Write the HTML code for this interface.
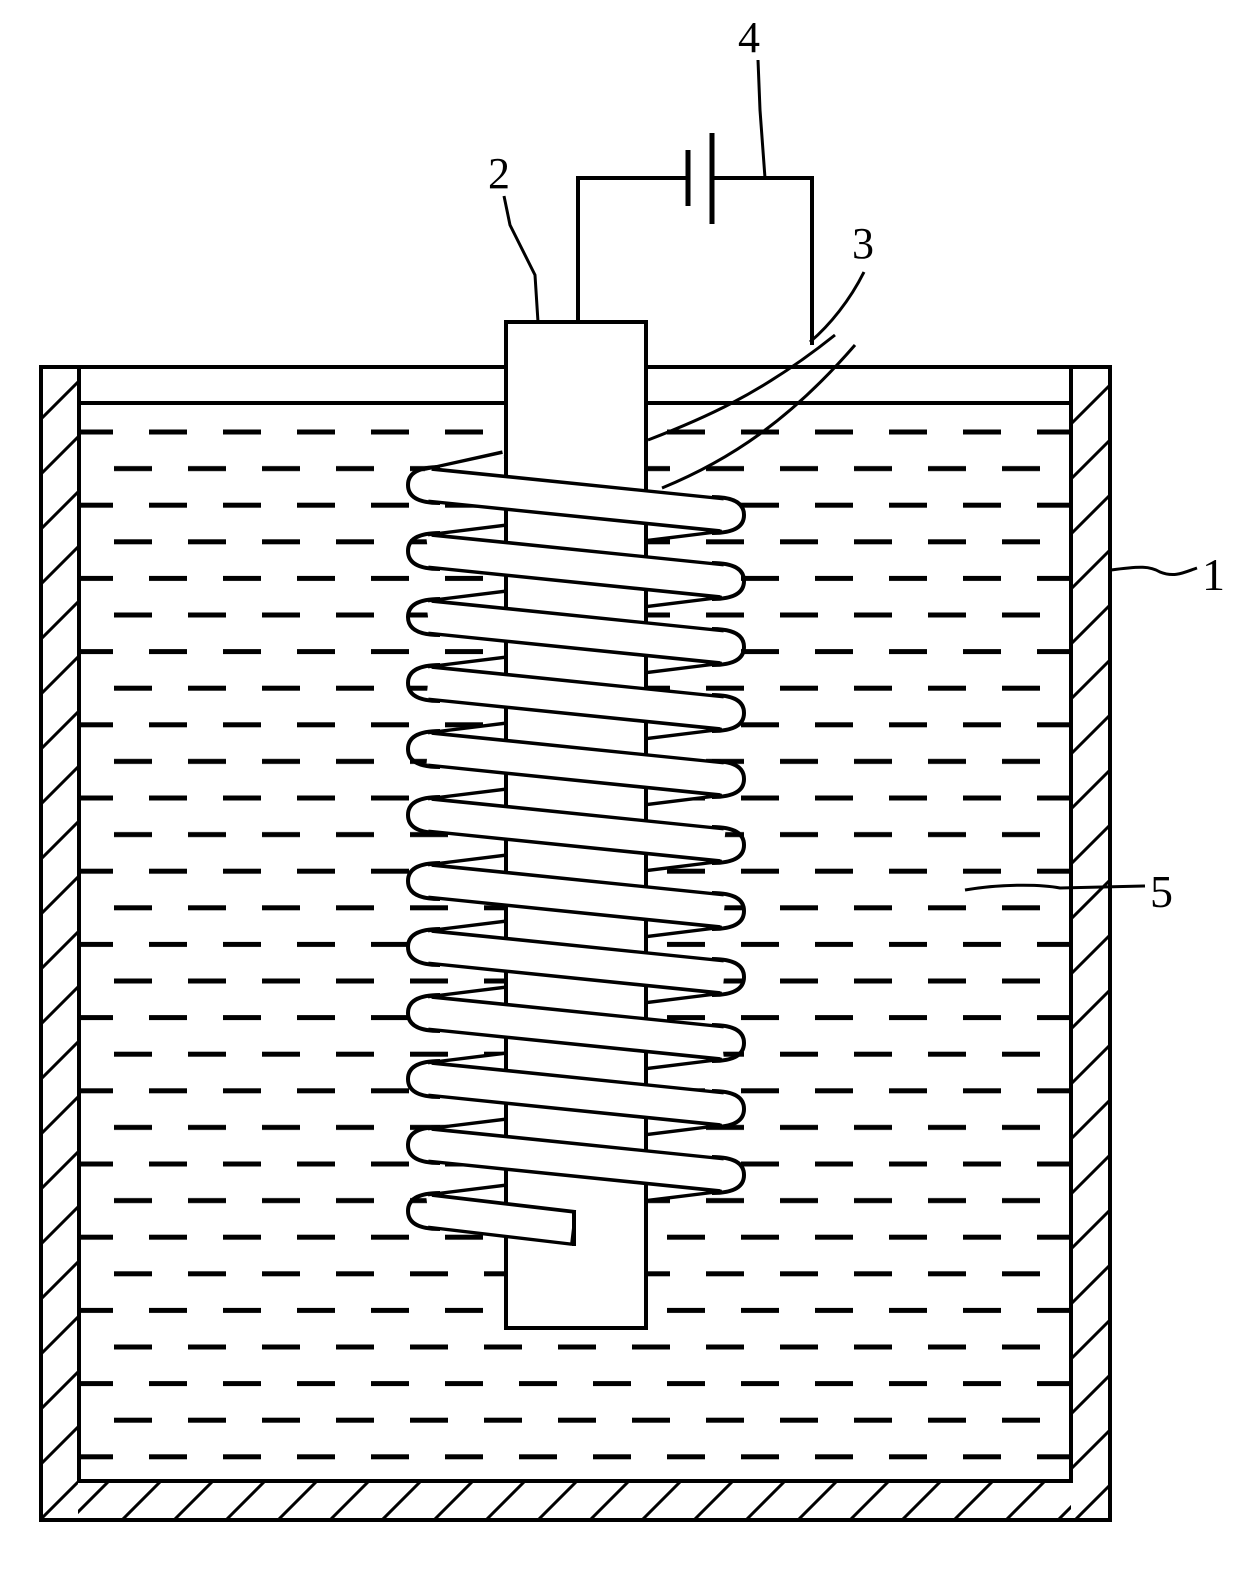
<!DOCTYPE html>
<html><head><meta charset="utf-8"><style>
html,body{margin:0;padding:0;background:#fff;}
svg{display:block;}
text{font-family:"Liberation Serif",serif;fill:#000;}
</style></head><body>
<svg width="1254" height="1570" viewBox="0 0 1254 1570" xmlns="http://www.w3.org/2000/svg">
<defs>
<clipPath id="lw"><rect x="42" y="368" width="36" height="1150"/></clipPath>
<clipPath id="rw"><rect x="1071" y="368" width="38" height="1150"/></clipPath>
<clipPath id="bw"><rect x="78" y="1481" width="993" height="38"/></clipPath>
<pattern id="dp" patternUnits="userSpaceOnUse" x="75" y="429.5" width="74" height="73.2">
<rect x="0" y="0" width="38" height="5" fill="#000"/>
<rect x="39" y="36.6" width="35" height="5" fill="#000"/>
<rect x="0" y="36.6" width="3" height="5" fill="#000"/>
</pattern>
</defs>
<rect x="81" y="425" width="988" height="1045" fill="url(#dp)"/>
<g stroke="#000" fill="none">
<g clip-path="url(#lw)" stroke-width="3">
<path d="M40 420 L80 380 M40 475 L80 435 M40 530 L80 490 M40 585 L80 545 M40 640 L80 600 M40 695 L80 655 M40 750 L80 710 M40 805 L80 765 M40 860 L80 820 M40 915 L80 875 M40 970 L80 930 M40 1025 L80 985 M40 1080 L80 1040 M40 1135 L80 1095 M40 1190 L80 1150 M40 1245 L80 1205 M40 1300 L80 1260 M40 1355 L80 1315 M40 1410 L80 1370 M40 1465 L80 1425 M40 1520 L80 1480"/>
</g>
<g clip-path="url(#rw)" stroke-width="3">
<path d="M1070 425 L1110 385 M1070 480 L1110 440 M1070 535 L1110 495 M1070 590 L1110 550 M1070 645 L1110 605 M1070 700 L1110 660 M1070 755 L1110 715 M1070 810 L1110 770 M1070 865 L1110 825 M1070 920 L1110 880 M1070 975 L1110 935 M1070 1030 L1110 990 M1070 1085 L1110 1045 M1070 1140 L1110 1100 M1070 1195 L1110 1155 M1070 1250 L1110 1210 M1070 1305 L1110 1265 M1070 1360 L1110 1320 M1070 1415 L1110 1375 M1070 1470 L1110 1430 M1070 1525 L1110 1485"/>
</g>
<g clip-path="url(#bw)" stroke-width="3">
<path d="M70 1520 L108 1482 M122 1520 L160 1482 M174 1520 L212 1482 M226 1520 L264 1482 M278 1520 L316 1482 M330 1520 L368 1482 M382 1520 L420 1482 M434 1520 L472 1482 M486 1520 L524 1482 M538 1520 L576 1482 M590 1520 L628 1482 M642 1520 L680 1482 M694 1520 L732 1482 M746 1520 L784 1482 M798 1520 L836 1482 M850 1520 L888 1482 M902 1520 L940 1482 M954 1520 L992 1482 M1006 1520 L1044 1482 M1058 1520 L1096 1482"/>
</g>
<rect x="41" y="367" width="1069" height="1153" stroke-width="4"/>
<path d="M79 367 V1481 H1071 V367" stroke-width="4"/>
<line x1="79" y1="403" x2="1071" y2="403" stroke-width="4"/>

<!-- coil back strands -->
<path d="M506 468 L430 485 M720 515 L430 551 M720 581 L430 617 M720 647 L430 683 M720 713 L430 749 M720 779 L430 815 M720 845 L430 881 M720 911 L430 947 M720 977 L430 1013 M720 1043 L430 1079 M720 1109 L430 1145 M720 1175 L430 1211" stroke-width="36"/>
<path d="M506 468 L428 485 M722 515 L428 551 M722 581 L428 617 M722 647 L428 683 M722 713 L428 749 M722 779 L428 815 M722 845 L428 881 M722 911 L428 947 M722 977 L428 1013 M722 1043 L428 1079 M722 1109 L428 1145 M722 1175 L428 1211" stroke="#fff" stroke-width="29"/>

<!-- rod -->
<rect x="506" y="322" width="140" height="1006" fill="#fff" stroke-width="4"/>

<!-- coil front strands -->
<path d="M430 485 L722 515 M430 551 L722 581 M430 617 L722 647 M430 683 L722 713 M430 749 L722 779 M430 815 L722 845 M430 881 L722 911 M430 947 L722 977 M430 1013 L722 1043 M430 1079 L722 1109 M430 1145 L722 1175 M430 1211 L574 1228" stroke-width="36"/>
<path d="M428 485 L724 515 M428 551 L724 581 M428 617 L724 647 M428 683 L724 713 M428 749 L724 779 M428 815 L724 845 M428 881 L724 911 M428 947 L724 977 M428 1013 L724 1043 M428 1079 L724 1109 M428 1145 L724 1175 M428 1211 L572 1228" stroke="#fff" stroke-width="29"/>
<line x1="574" y1="1210" x2="574" y2="1246" stroke-width="4"/>
<!-- bends -->
<path stroke-width="4" d="M440 467 Q408 467 408 485 Q408 503 440 503 M440 533 Q408 533 408 551 Q408 569 440 569 M440 599 Q408 599 408 617 Q408 635 440 635 M440 665 Q408 665 408 683 Q408 701 440 701 M440 731 Q408 731 408 749 Q408 767 440 767 M440 797 Q408 797 408 815 Q408 833 440 833 M440 863 Q408 863 408 881 Q408 899 440 899 M440 929 Q408 929 408 947 Q408 965 440 965 M440 995 Q408 995 408 1013 Q408 1031 440 1031 M440 1061 Q408 1061 408 1079 Q408 1097 440 1097 M440 1127 Q408 1127 408 1145 Q408 1163 440 1163 M440 1193 Q408 1193 408 1211 Q408 1229 440 1229"/>
<path stroke-width="4" d="M712 497 Q744 497 744 515 Q744 533 712 533 M712 563 Q744 563 744 581 Q744 599 712 599 M712 629 Q744 629 744 647 Q744 665 712 665 M712 695 Q744 695 744 713 Q744 731 712 731 M712 761 Q744 761 744 779 Q744 797 712 797 M712 827 Q744 827 744 845 Q744 863 712 863 M712 893 Q744 893 744 911 Q744 929 712 929 M712 959 Q744 959 744 977 Q744 995 712 995 M712 1025 Q744 1025 744 1043 Q744 1061 712 1061 M712 1091 Q744 1091 744 1109 Q744 1127 712 1127 M712 1157 Q744 1157 744 1175 Q744 1193 712 1193"/>

<!-- wire 3 -->
<path d="M648 440 C700 420 760 395 835 335" stroke-width="3"/>
<path d="M662 488 C730 460 790 420 855 345" stroke-width="3"/>
<!-- battery circuit -->
<path d="M578 322 V178 H688 M712 178 H812 V345" stroke-width="4"/>
<line x1="688" y1="150" x2="688" y2="206" stroke-width="5"/>
<line x1="712" y1="133" x2="712" y2="224" stroke-width="5"/>
<!-- leaders -->
<path d="M504 196 L510 225 L535 275 L538 322" stroke-width="3"/>
<path d="M758 60 L760 110 L765 178" stroke-width="3"/>
<path d="M864 272 C850 300 830 325 810 342" stroke-width="3"/>
<path d="M1111 570 C1140 566 1150 566 1160 572 C1175 578 1185 572 1197 568" stroke-width="3"/>
<path d="M965 890 C1000 884 1040 884 1060 888 L1145 886" stroke-width="3"/>
</g>
<text x="488" y="188" font-size="44">2</text>
<text x="738" y="52" font-size="44">4</text>
<text x="852" y="258" font-size="44">3</text>
<text x="1202" y="590" font-size="46">1</text>
<text x="1150" y="907" font-size="46">5</text>
</svg>
</body></html>
